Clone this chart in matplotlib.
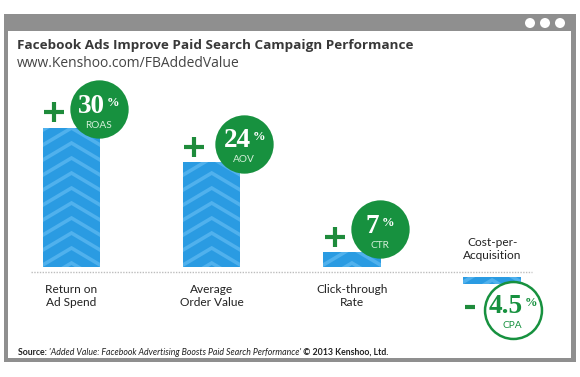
import matplotlib
matplotlib.use("Agg")
import matplotlib.pyplot as plt
from matplotlib.patches import Rectangle, Circle
import numpy as np

# data
categories = ["Return on\nAd Spend", "Average\nOrder Value", "Click-through\nRate", "Cost-per-\nAcquisition"]
metrics = ["ROAS", "AOV", "CTR", "CPA"]
change_pct = [30, 24, 7, -4.5]          # printed in the badges
bar_heights = [30, 22.7, 3.2, -1.5]     # bars as drawn (the original is not to scale)

title = "Facebook Ads Improve Paid Search Campaign Performance"
subtitle = "www.Kenshoo.com/FBAddedValue"
source_parts = [("Source: ", "normal", "bold"),
                ("'Added Value: Facebook Advertising Boosts Paid Search Performance'", "italic", "normal"),
                (" \u00a9 2013 Kenshoo, Ltd.", "normal", "bold")]

# layout (pixels)
W, H = 580, 377
X0, SX = 71.5, 140.2     # first bar centre, px per category
Y0, SY = 272, 4.63       # baseline, px per unit
badge_dx = [27.5, 32.5, 28, 20.5]
badge_dy = [19, 18, 23, -26]
sign_off = [(-18, 16), (-18, 15), (-17, 15), (-22, -23)]

BLUE = "#2a9be2"
STRIPE = "#50b1ed"
GREEN = "#17913f"
DARK_GREEN = "#1e8b3b"
SANS = "Lato"
HEAD = "Open Sans"

fig = plt.figure(figsize=(W / 100, H / 100), dpi=100)
renderer = fig.canvas.get_renderer()

# browser-like frame
bg = fig.add_axes([0, 0, 1, 1])
bg.set_xlim(0, W)
bg.set_ylim(H, 0)
bg.axis("off")
bg.add_patch(Rectangle((4, 14), 572, 348, color="#8f8f8f", lw=0))
bg.add_patch(Rectangle((8, 31), 563, 327, color="white", lw=0))
for cx in (530, 545, 560):
    bg.add_patch(Circle((cx, 23), 5, color="white", lw=0))

bg.text(17, 49, title, fontsize=9.7, fontweight="bold", family=HEAD, color="#383838", va="baseline")
bg.text(17, 67, subtitle, fontsize=10, family=HEAD, color="#444444", va="baseline")

# source line, pieces placed one after another
xpos = 18
for txt, style, weight in source_parts:
    t = bg.text(xpos, 355, txt, fontsize=6.3, family=SANS, style=style, fontweight=weight,
                color="#222222", va="baseline")
    xpos += t.get_window_extent(renderer).width

# chart
ax = fig.add_axes([(X0 - 0.5 * SX) / W, (H - Y0 - 12 * SY) / H, 4 * SX / W, 48 * SY / H])
ax.set_xlim(-0.5, 3.5)
ax.set_ylim(-12, 36)
ax.axis("off")

x = np.arange(len(categories))
gap = 5 / SY
bottoms = [gap if h > 0 else -gap for h in bar_heights]
bars = ax.bar(x, bar_heights, width=0.41, bottom=bottoms, color=BLUE, lw=0, zorder=2)

ax.axhline(0, xmin=(31 - X0 + 0.5 * SX) / (4 * SX), xmax=(532 - X0 + 0.5 * SX) / (4 * SX),
           color="#bdbdbd", lw=1, ls=(0, (1, 1)), zorder=1)

# chevron stripes inside the bars
spacing, drop = 15 / SY, 17 / SY
for b in bars:
    x0, w = b.get_x(), b.get_width()
    lo = min(b.get_y(), b.get_y() + b.get_height())
    hi = max(b.get_y(), b.get_y() + b.get_height())
    apex = lo + 4 / SY
    while apex - drop < hi:
        ln, = ax.plot([x0 - 0.02, x0 + w / 2, x0 + w + 0.02], [apex - drop * 1.1, apex, apex - drop * 1.1],
                      color=STRIPE, lw=2.6, solid_joinstyle="miter", zorder=3)
        ln.set_clip_path(b)
        apex += spacing

for i, (v, h, b0) in enumerate(zip(change_pct, bar_heights, bottoms)):
    end = b0 + h
    cx = x[i] + badge_dx[i] / SX
    cy = end + badge_dy[i] / SY
    filled = v > 0
    if filled:
        ax.plot(cx, cy, "o", ms=42, mfc=GREEN, mec=GREEN, mew=0, zorder=5, clip_on=False)
        fg, lab_c = "white", "#d4efd9"
    else:
        ax.plot(cx, cy, "o", ms=41, mfc="white", mec=GREEN, mew=1.8, zorder=5, clip_on=False)
        fg, lab_c = GREEN, GREEN

    # number + superscript percent, centred as a group
    num = ax.annotate(f"{abs(v):g}", (cx, cy), xytext=(0, 3), textcoords="offset pixels",
                      ha="left", va="center", fontsize=19.5, family="Liberation Serif",
                      fontweight="bold", color=fg, zorder=6, annotation_clip=False)
    pct = ax.annotate("%", (cx, cy), xytext=(0, 12.5), textcoords="offset pixels",
                      ha="left", va="top", fontsize=9, family="Liberation Serif",
                      fontweight="bold", color=fg, zorder=6, annotation_clip=False)
    wn = num.get_window_extent(renderer).width
    wp = pct.get_window_extent(renderer).width
    left = -(wn + wp + 2) / 2
    num.set_position((left, 3))
    pct.set_position((left + wn + 2, 12.5))

    ax.annotate(metrics[i], (cx, cy), xytext=(0, -16), textcoords="offset pixels",
                ha="center", va="center", fontsize=7.3, family=SANS, color=lab_c,
                zorder=6, annotation_clip=False)

    # plus / minus sign next to the bar end
    sdx, sdy = sign_off[i]
    ax.plot(x[i] + sdx / SX, end + sdy / SY, marker="+" if v > 0 else "_",
            ms=14 if v > 0 else 7.5, mew=3, color=DARK_GREEN, zorder=6, clip_on=False)

    # category label on the far side of the baseline
    ax.annotate(categories[i], (x[i], 0), xytext=(0, -24 if h > 0 else 23), textcoords="offset pixels",
                ha="center", va="center", multialignment="center", linespacing=1.3,
                fontsize=8.6, family=SANS, color="#222222", annotation_clip=False)

fig.savefig("out.png", dpi=100)
